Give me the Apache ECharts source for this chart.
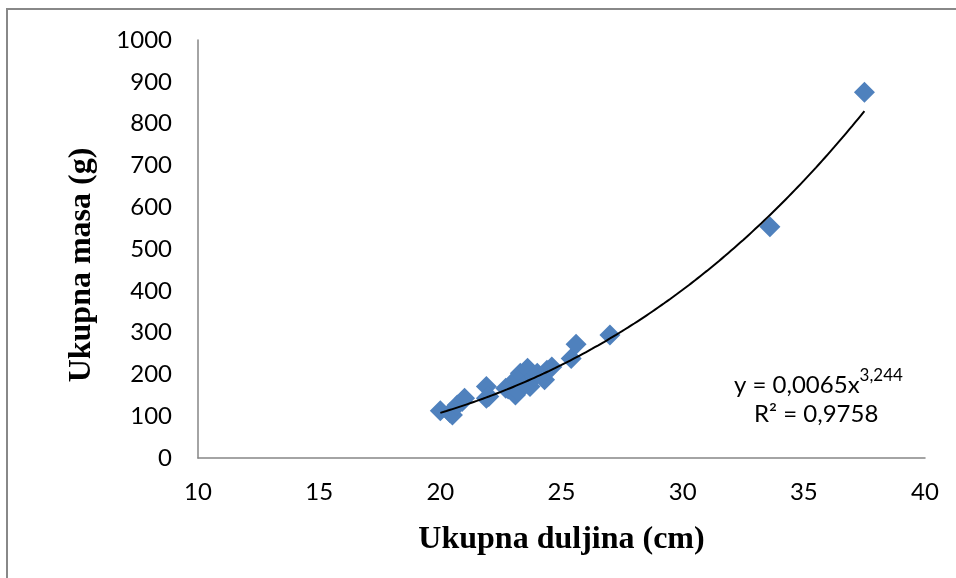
<!DOCTYPE html>
<html>
<head>
<meta charset="utf-8">
<script src="https://cdn.jsdelivr.net/npm/echarts@6/dist/echarts.min.js"></script>
<style>
html,body{margin:0;padding:0;background:#fff;}
#chart{width:956px;height:578px;}
</style>
</head>
<body>
<div id="chart"></div>
<script>
// Measured points: total length (cm) and total mass (g)
var lengths = [20.0, 20.4, 20.5, 20.7, 20.9, 21.0, 21.9, 21.9, 22.0, 22.7, 22.8, 23.1, 23.1, 23.2, 23.3, 23.5, 23.6, 23.7, 23.9, 24.0, 24.3, 24.4, 24.6, 25.4, 25.6, 27.0, 33.6, 37.5];
var masses  = [113,  108,  103,  127,  135,  143,  171,  143,  147,  167,  165,  187,  151,  160,  203,  176,  215,  171,  195,  203,  187,  210,  218,  238,  272,  294,  553,  875];
var xTicks = [10, 15, 20, 25, 30, 35, 40];
var yTicks = [0, 100, 200, 300, 400, 500, 600, 700, 800, 900, 1000];
// Power trendline as shown on the chart: y = a * x^b
var trendA = 0.0065, trendB = 3.244;
var trendFrom = 20.0, trendTo = 37.5;
var eqText = 'y = 0,0065x';
var eqExp = '3,244';
var r2Text = '0,9758';
var xTitle = 'Ukupna duljina (cm)';
var yTitle = 'Ukupna masa (g)';

var pts = lengths.map(function(x, i){ return [x, masses[i]]; });
var trend = [];
for (var x = trendFrom; x <= trendTo + 1e-9; x += 0.25) {
  trend.push([x, trendA * Math.pow(x, trendB)]);
}

var chart = echarts.init(document.getElementById('chart'));
var labelFont = 'Lato';
chart.setOption({
  animation: false,
  backgroundColor: '#ffffff',
  grid: {left: 198, right: 31, top: 40, bottom: 120},
  xAxis: {
    type: 'value', min: xTicks[0], max: xTicks[xTicks.length-1], interval: 5,
    axisLine: {show: true, lineStyle: {color: '#868686', width: 1.5}},
    axisTick: {show: false},
    splitLine: {show: false},
    axisLabel: {color: '#000', fontFamily: labelFont, fontSize: 24, margin: 22,
      formatter: function(v){ return String(v); }},
    name: xTitle, nameLocation: 'middle', nameGap: 66,
    nameTextStyle: {color: '#000', fontFamily: 'Liberation Serif', fontWeight: 'bold', fontSize: 32}
  },
  yAxis: {
    type: 'value', min: yTicks[0], max: yTicks[yTicks.length-1], interval: 100,
    axisLine: {show: true, lineStyle: {color: '#868686', width: 1.5}},
    axisTick: {show: false},
    splitLine: {show: false},
    axisLabel: {color: '#000', fontFamily: labelFont, fontSize: 24, margin: 26,
      formatter: function(v){ return String(v); }}
  },
  graphic: [
    {type: 'rect', shape: {x: 7, y: 9, width: 1000, height: 1000}, style: {fill: 'none', stroke: '#888888', lineWidth: 2}, silent: true, z: -10},
    {type: 'text', x: 82, y: 265, rotation: Math.PI / 2, style: {
      text: yTitle, fontFamily: 'Liberation Serif', fontWeight: 'bold', fontSize: 32, fill: '#000',
      align: 'center', verticalAlign: 'middle'
    }},
    {type: 'text', left: 734, top: 367, style: {
      text: '{m|' + eqText + '}{s|' + eqExp + '}',
      rich: {
        m: {fontFamily: labelFont, fontSize: 24, fill: '#000', verticalAlign: 'bottom', lineHeight: 30},
        s: {fontFamily: labelFont, fontSize: 17, fill: '#000', verticalAlign: 'top', lineHeight: 30, padding: [0,0,12,0]}
      }
    }},
    {type: 'text', left: 754, top: 402, style: {
      text: 'R² = ' + r2Text, fontFamily: labelFont, fontSize: 24, fill: '#000'
    }}
  ],
  series: [
    {type: 'scatter', data: pts, symbol: 'diamond', symbolSize: 21,
     itemStyle: {color: '#4F81BD', opacity: 1}, z: 2},
    {type: 'line', data: trend, showSymbol: false, smooth: true,
     lineStyle: {color: '#000', width: 2}, z: 3}
  ]
});
</script>
</body>
</html>
